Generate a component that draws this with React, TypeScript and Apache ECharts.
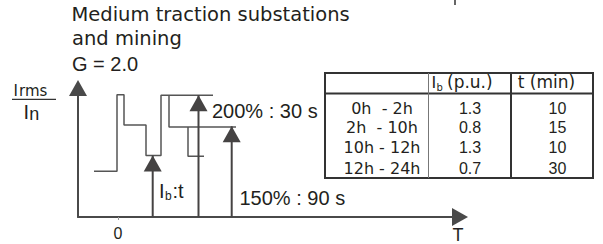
import React, { useEffect, useRef } from 'react';
import * as echarts from 'echarts';

// ---- Data ----
// Load profile (x in arbitrary time units, y in % of In)
const WAVE_MAIN_X = [-2.4, -0.1, -0.1, 0.6, 0.6, 2.8, 2.8, 4.3, 4.3, 9.5];
const WAVE_MAIN_Y = [75, 75, 201, 201, 151, 151, 101, 101, 200, 200];
const WAVE_B_X = [5.1, 5.1, 11.8];
const WAVE_B_Y = [200, 148, 148];
const WAVE_C_X = [7.0, 7.0, 8.6];
const WAVE_C_Y = [148, 100, 100];

// Upward arrows
const ARROW_X = [3.47, 8.05, 11.37];
const ARROW_TOP = [101, 200, 149];

// Axis ticks
const X_TICKS = [0];

// Title
const TITLE_LINES = ['Medium traction substations', 'and mining', 'G = 2.0'];
const LABEL_200 = '200% : 30 s';
const LABEL_150 = '150% : 90 s';

// Table
const TABLE_PERIODS = ['0h  - 2h', '2h  - 10h', '10h - 12h', '12h - 24h'];
const TABLE_IB = [1.3, 0.8, 1.3, 0.7];
const TABLE_T = [10, 15, 10, 30];
const HEADER_T = 't (min)';
const HEADER_IB_MAIN = 'I';
const HEADER_IB_SUB = 'b';
const HEADER_IB_REST = '(p.u.)';

const LINE = '#4a4a4a';
const ARROW = '#454343';
const TEXT = '#231f20';
const DV = 'DejaVu Sans';
const LS = 'Liberation Sans';

function txt(x: number, baseline: number, text: string, size: number, family: string, align: string = 'left') {
  return {
    type: 'text',
    x,
    y: baseline - 0.346 * size,
    silent: true,
    style: {
      text,
      fontSize: size,
      fontFamily: family,
      fill: TEXT,
      align,
      verticalAlign: 'middle',
    },
  };
}

function hline(x1: number, x2: number, y: number, w: number, c: string) {
  return { type: 'line', silent: true, shape: { x1, y1: y, x2, y2: y }, style: { stroke: c, lineWidth: w } };
}
function vline(x: number, y1: number, y2: number, w: number, c: string) {
  return { type: 'line', silent: true, shape: { x1: x, y1, x2: x, y2 }, style: { stroke: c, lineWidth: w } };
}

const zip = (xs: number[], ys: number[]) => xs.map((x, i) => [x, ys[i]]);

export default function App() {
  const ref = useRef<HTMLDivElement>(null);
  useEffect(() => {
    if (!ref.current) return;
    const chart = echarts.init(ref.current, null, { renderer: 'svg' });

    const waveSeries = [
      zip(WAVE_MAIN_X, WAVE_MAIN_Y),
      zip(WAVE_B_X, WAVE_B_Y),
      zip(WAVE_C_X, WAVE_C_Y),
    ].map((d) => ({
      type: 'line',
      data: d,
      showSymbol: false,
      symbol: 'none',
      silent: true,
      lineStyle: { color: '#555', width: 1.5 },
      z: 2,
    }));

    const arrowSeries = ARROW_X.map((x, i) => ({
      type: 'line',
      data: [
        { value: [x, 0], symbol: 'none' },
        { value: [x, ARROW_TOP[i]], symbol: 'triangle', symbolSize: [18, 16], symbolOffset: [0, '50%'] },
      ],
      showSymbol: true,
      silent: true,
      lineStyle: { color: ARROW, width: 2 },
      itemStyle: { color: ARROW },
      z: 3,
    }));

    const rowBase = [114, 133.5, 153.5, 174.5];
    const tableEls: any[] = [
      { type: 'rect', silent: true, shape: { x: 325, y: 73, width: 268, height: 105 }, style: { fill: 'none', stroke: '#333', lineWidth: 2 } },
      hline(325, 593, 93.5, 2, '#333'),
      vline(428.5, 73, 178, 1, '#777'),
      vline(511, 73, 178, 2, '#333'),
      txt(431.5, 88.3, HEADER_IB_MAIN, 16, DV),
      txt(436.5, 90.5, HEADER_IB_SUB, 10, DV),
      txt(447, 88.3, HEADER_IB_REST, 17, DV),
      txt(546.5, 88.3, HEADER_T, 17, DV, 'center'),
    ];
    TABLE_PERIODS.forEach((p, i) => tableEls.push(txt(382, rowBase[i], p, 16, DV, 'center')));
    TABLE_IB.forEach((v, i) => tableEls.push(txt(470, rowBase[i], v.toFixed(1), 16, LS, 'center')));
    TABLE_T.forEach((v, i) => tableEls.push(txt(557.5, rowBase[i], String(v), 16, LS, 'center')));

    const graphic: any[] = [
      txt(71.5, 21.7, TITLE_LINES[0], 19.5, DV),
      txt(72, 45.3, TITLE_LINES[1], 19.5, DV),
      txt(72, 70.7, TITLE_LINES[2], 20, LS),
      // y-axis label I_rms / I_n
      txt(13.5, 95.7, 'I', 15, DV),
      txt(19, 96, 'rms', 15, DV),
      hline(12, 56, 99.3, 1.3, '#333'),
      txt(23.6, 119.3, 'I', 20, LS),
      txt(29.2, 120.5, 'n', 18, LS),
      // arrow labels
      txt(212, 118, LABEL_200, 20, LS),
      txt(239.5, 205, LABEL_150, 20, LS),
      txt(159, 198, 'I', 20, LS),
      txt(165, 200.5, 'b', 12, LS),
      txt(172.5, 198, ':t', 20, LS),
      // x-axis name
      txt(458, 241.5, 'T', 18, LS, 'center'),
      // cut-off glyph descender at the top edge
      vline(455, 0, 5, 1.5, '#333'),
      ...tableEls,
    ];

    chart.setOption({
      animation: false,
      grid: { left: 78, right: 143, top: 88, bottom: 27 },
      xAxis: {
        type: 'value',
        min: -4,
        max: 34.2,
        axisLine: { show: true, onZero: false, symbol: ['none', 'triangle'], symbolSize: [18, 16], lineStyle: { color: LINE, width: 2 } },
        axisTick: { show: true, customValues: X_TICKS, length: 3, lineStyle: { color: '#999', width: 1 } },
        axisLabel: { show: true, customValues: X_TICKS, margin: 8, fontSize: 16, fontFamily: LS, color: TEXT },
        splitLine: { show: false },
      },
      yAxis: {
        type: 'value',
        min: 0,
        max: 212,
        axisLine: { show: true, onZero: false, symbol: ['none', 'triangle'], symbolSize: [18, 16], lineStyle: { color: LINE, width: 2 } },
        axisTick: { show: false },
        axisLabel: { show: false },
        splitLine: { show: false },
      },
      series: [...waveSeries, ...arrowSeries],
      graphic,
    });
    return () => chart.dispose();
  }, []);
  return <div ref={ref} style={{ position: 'fixed', left: 0, top: 0, width: 603, height: 244, background: '#fff' }} />;
}
